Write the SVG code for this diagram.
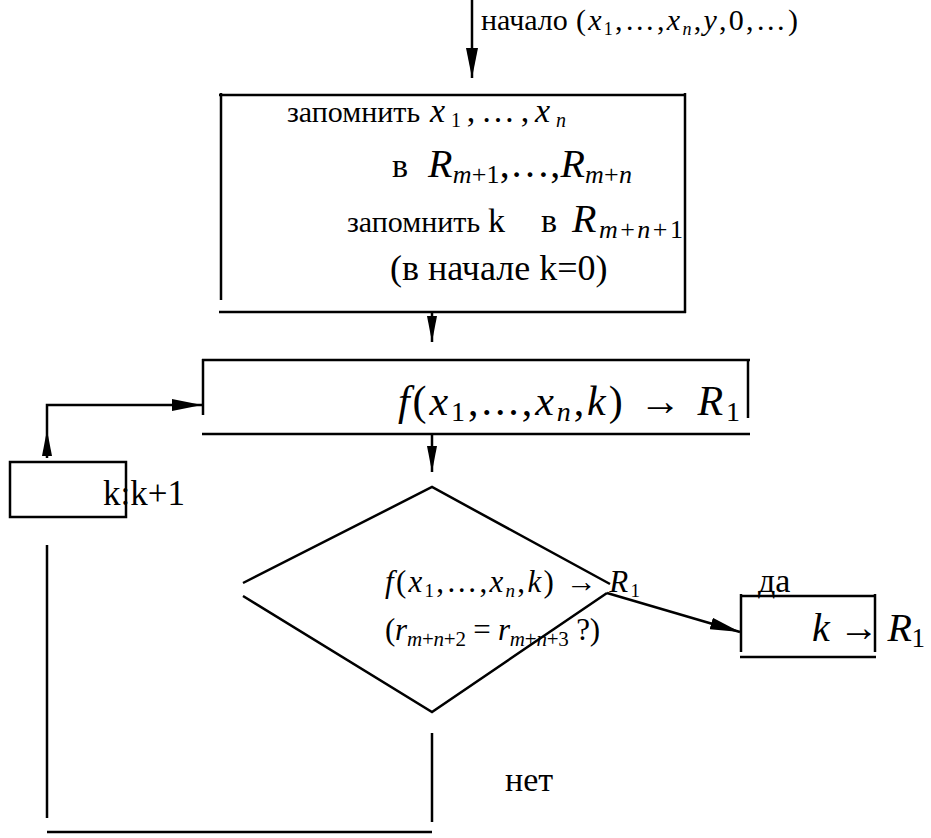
<svg xmlns="http://www.w3.org/2000/svg" width="931" height="838" viewBox="0 0 931 838">
<style>
.ln{stroke:#000;stroke-width:2.5;fill:none}
.t{font-family:'Liberation Serif','Times New Roman',serif;fill:#000}
.i{font-style:italic}
</style>
<defs>
<marker id="ah" markerUnits="userSpaceOnUse" markerWidth="30" markerHeight="12" refX="30" refY="6" orient="auto">
<path d="M0,0 L30,6 L0,12 z" fill="#000"/>
</marker>
<marker id="ahs" markerUnits="userSpaceOnUse" markerWidth="26" markerHeight="10" refX="26" refY="5" orient="auto">
<path d="M0,0 L26,5 L0,10 z" fill="#000"/>
</marker>
</defs>
<rect width="931" height="838" fill="#fff"/>

<g id="connectors">
<line class="ln" x1="472" y1="0" x2="472" y2="78" marker-end="url(#ah)"/>
<line class="ln" x1="432" y1="312" x2="432" y2="342" marker-end="url(#ahs)"/>
<line class="ln" x1="432" y1="434" x2="432" y2="472" marker-end="url(#ahs)"/>
<line class="ln" x1="47" y1="458" x2="47" y2="430" marker-end="url(#ahs)"/>
<polyline class="ln" points="47,430 47,405 202,405" marker-end="url(#ah)"/>
<line class="ln" x1="607" y1="593" x2="740" y2="632" marker-end="url(#ah)"/>
<line class="ln" x1="47" y1="545" x2="47" y2="818"/>
<line class="ln" x1="432" y1="733" x2="432" y2="822"/>
<line class="ln" x1="47" y1="832" x2="432" y2="832"/>
</g>

<g id="start-label">
<text class="t" x="481" y="30" font-size="30">начало</text>
<text class="t" x="576" y="30" font-size="30" textLength="222" lengthAdjust="spacing">(<tspan class="i">x</tspan><tspan dy="5" font-size="18">1</tspan><tspan dy="-5">,…,</tspan><tspan class="i">x</tspan><tspan dy="5" font-size="18" class="i">n</tspan><tspan dy="-5">,</tspan><tspan class="i">y</tspan>,0,…)</text>
</g>

<g id="init-box">
<line class="ln" x1="219" y1="95" x2="686" y2="95"/>
<line class="ln" x1="221" y1="93" x2="221" y2="300"/>
<line class="ln" x1="685" y1="93" x2="685" y2="313"/>
<line class="ln" x1="219" y1="312" x2="686" y2="312"/>
<text class="t" x="287" y="122" font-size="30">запомнить</text>
<text class="t" x="430" y="122" font-size="34" textLength="136" lengthAdjust="spacing"><tspan class="i">x</tspan><tspan dy="5" font-size="20">1</tspan><tspan dy="-5">,…,</tspan><tspan class="i">x</tspan><tspan dy="5" font-size="20" class="i">n</tspan></text>
<text class="t" x="392" y="177" font-size="34">в</text>
<text class="t" x="428" y="177" font-size="40" textLength="204" lengthAdjust="spacing"><tspan class="i">R</tspan><tspan dy="6" font-size="26" class="i">m</tspan><tspan font-size="26">+1</tspan><tspan dy="-6">,…,</tspan><tspan class="i">R</tspan><tspan dy="6" font-size="26" class="i">m</tspan><tspan font-size="26">+</tspan><tspan font-size="26" class="i">n</tspan></text>
<text class="t" x="347" y="232" font-size="30">запомнить</text>
<text class="t" x="488" y="232" font-size="34">k</text>
<text class="t" x="541" y="232" font-size="34">в</text>
<text class="t" x="572" y="232" font-size="40" textLength="111" lengthAdjust="spacing"><tspan class="i">R</tspan><tspan dy="6" font-size="26" class="i">m</tspan><tspan font-size="26">+</tspan><tspan font-size="26" class="i">n</tspan><tspan font-size="26">+1</tspan></text>
<text class="t" x="390" y="280" font-size="36">(в начале k=0)</text>
</g>

<g id="compute-box">
<line class="ln" x1="202" y1="360" x2="750" y2="360"/>
<line class="ln" x1="203" y1="359" x2="203" y2="415"/>
<line class="ln" x1="748" y1="359" x2="748" y2="418"/>
<line class="ln" x1="202" y1="434" x2="750" y2="434"/>
<text class="t" x="398" y="415" font-size="42" textLength="342" lengthAdjust="spacing"><tspan class="i">f</tspan>(<tspan class="i">x</tspan><tspan dy="6" font-size="28">1</tspan><tspan dy="-6">,...,</tspan><tspan class="i">x</tspan><tspan dy="6" font-size="28" class="i">n</tspan><tspan dy="-6">,</tspan><tspan class="i">k</tspan>) → <tspan class="i">R</tspan><tspan dy="6" font-size="28">1</tspan></text>
</g>

<g id="inc-box">
<rect class="ln" x="10" y="462" width="116" height="55"/>
<text class="t" x="103" y="505" font-size="35">k:k+1</text>
</g>

<g id="decision">
<polyline class="ln" points="243,583 432,487 610,584"/>
<polyline class="ln" points="243,596 432,712 607,593"/>
<text class="t" x="385" y="592" font-size="31" textLength="255" lengthAdjust="spacing"><tspan class="i">f</tspan>(<tspan class="i">x</tspan><tspan dy="5" font-size="19">1</tspan><tspan dy="-5">,…,</tspan><tspan class="i">x</tspan><tspan dy="5" font-size="19" class="i">n</tspan><tspan dy="-5">,</tspan><tspan class="i">k</tspan>) → <tspan class="i">R</tspan><tspan dy="5" font-size="19">1</tspan></text>
<text class="t" x="385" y="640" font-size="31" textLength="215" lengthAdjust="spacing">(<tspan class="i">r</tspan><tspan dy="6" font-size="21" class="i">m</tspan><tspan font-size="21">+</tspan><tspan font-size="21" class="i">n</tspan><tspan font-size="21">+2</tspan><tspan dy="-6"> = </tspan><tspan class="i">r</tspan><tspan dy="6" font-size="21" class="i">m</tspan><tspan font-size="21">+</tspan><tspan font-size="21" class="i">n</tspan><tspan font-size="21">+3</tspan><tspan dy="-6"> ?)</tspan></text>
</g>

<g id="result-box">
<line class="ln" x1="740" y1="596" x2="876" y2="596"/>
<line class="ln" x1="741" y1="594" x2="741" y2="652"/>
<line class="ln" x1="875" y1="594" x2="875" y2="652"/>
<line class="ln" x1="740" y1="657" x2="876" y2="657"/>
<text class="t" x="812" y="641" font-size="40" textLength="113" lengthAdjust="spacing"><tspan class="i">k</tspan> → <tspan class="i">R</tspan><tspan dy="6" font-size="27">1</tspan></text>
</g>

<g id="labels">
<text class="t" x="758" y="592" font-size="34">да</text>
<text class="t" x="505" y="791" font-size="34">нет</text>
</g>
</svg>
